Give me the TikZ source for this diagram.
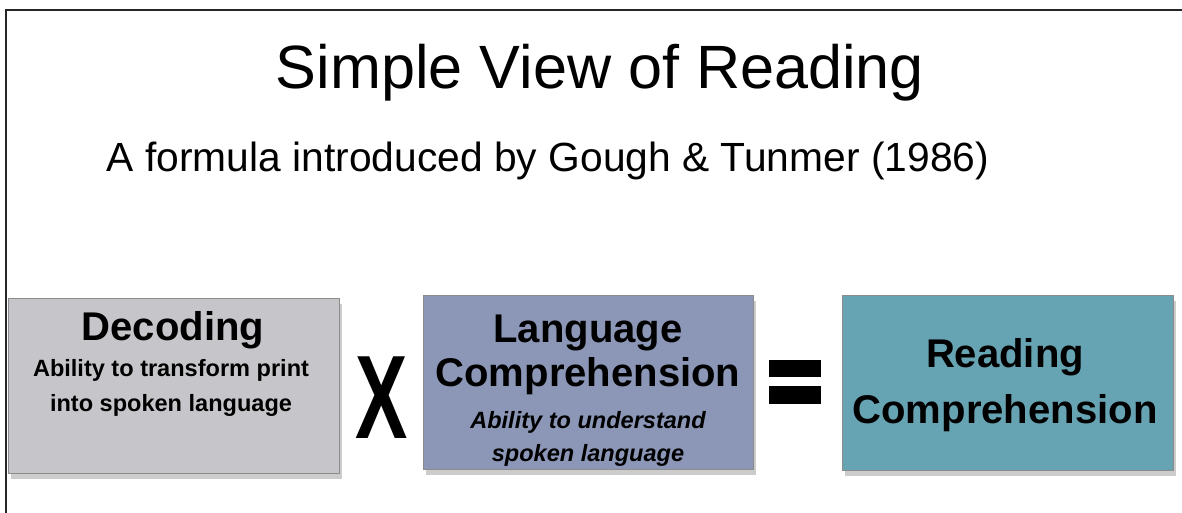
\documentclass[tikz,border=0pt]{standalone}
\usepackage{fontspec}
\setmainfont{Liberation Sans}
\usetikzlibrary{shadows}
\definecolor{decodegray}{HTML}{C6C6CA}
\definecolor{langblue}{HTML}{8C97B7}
\definecolor{readteal}{HTML}{67A4B3}
\begin{document}
\begin{tikzpicture}[x=0.02cm, y=-0.02cm,
		box/.style={rectangle, draw=black!45, line width=0.6pt, inner sep=0cm, anchor=north west,
			drop shadow={shadow xshift=1.5pt, shadow yshift=-3pt, opacity=0.4}},
		head/.style={font=\fontsize{22.8}{26}\selectfont\bfseries, align=center, inner sep=0cm},
		sub/.style={font=\fontsize{13.4}{19.4}\selectfont\bfseries, align=center, inner sep=0cm}]
	\useasboundingbox (0,0) rectangle (1182,513);
	\draw[line width=1.2pt, black!85] (6,513) -- (6,10) -- (1182,10);
	
	\node (title) at (600,73) [inner sep=0cm] {\fontsize{34.8}{40}\selectfont Simple View of Reading};
	\node (subtitle) at (548,161) [inner sep=0cm] {\fontsize{23.2}{28}\selectfont A formula introduced by Gough \& Tunmer (1986)};
	
	\node (decode) at (8,298) [box, fill=decodegray, minimum width=6.62cm, minimum height=3.5cm] {};
	\node (lang) at (423,295) [box, fill=langblue, minimum width=6.6cm, minimum height=3.48cm] {};
	\node (read) at (842,295) [box, fill=readteal, minimum width=6.62cm, minimum height=3.5cm] {};
	
	\node (decodeT) at (173,330) [head] {Decoding};
	\node (decodeS) at (171,388) [sub] {Ability to transform print\\into spoken language};
	\node (langT) at (588,351) [head, text depth=0pt] {Language\\[-1pt]Comprehension};
	\node (langS) at (588,439) [sub, font=\fontsize{13.4}{18.4}\selectfont\bfseries\itshape] {Ability to understand\\spoken language};
	\node (readT) at (1005,385) [head, font=\fontsize{22.8}{32}\selectfont\bfseries] {Reading\\Comprehension};
	
	\node (times) at (382,398) [inner sep=0cm] {\fontsize{67.6}{68}\selectfont\bfseries\scalebox{0.66}[1]{X}};
	\fill (769,360) rectangle (821,377);
	\fill (769,386) rectangle (821,404);
\end{tikzpicture}
\end{document}
